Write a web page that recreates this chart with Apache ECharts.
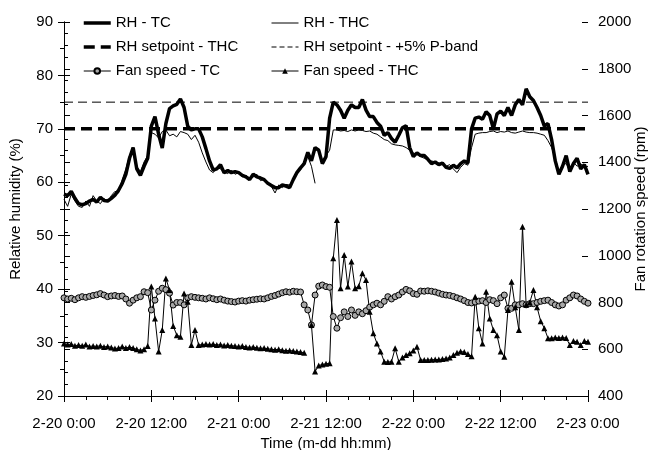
<!DOCTYPE html>
<html lang="en">
<head>
    <meta charset="UTF-8">
    <title>RH and fan speed</title>
    <script src="https://cdn.jsdelivr.net/npm/echarts/dist/echarts.min.js"></script>
    <style>
        body { margin: 0; padding: 0; background: #fff; }
        #chart { width: 652px; height: 450px; }
    </style>
</head>
<body>
<div id="chart"></div>
<script>
    // time step of the records, hours from 2-20 0:00
    var stepHours = 0.5;

    var xTickLabels = ['2-20 0:00', '2-20 12:00', '2-21 0:00', '2-21 12:00', '2-22 0:00', '2-22 12:00', '2-23 0:00'];

    var rhSetpointTHC = 70;
    var rhSetpointBand = 75;

    // relative humidity, %
    var rhTC = [
        57.8, 57.5, 58.3, 57.0, 56.0, 55.8, 56.0, 56.5, 56.8, 56.3, 57.2, 56.6,
        56.5, 57.0, 57.6, 58.5, 59.8, 61.5, 64.5, 66.5, 62.5, 61.3, 63.0, 64.5,
        70.5, 72.3, 69.0, 66.4, 71.0, 73.8, 74.3, 74.6, 75.6, 74.0, 70.5, 69.8,
        70.0, 70.0, 68.5, 66.3, 64.0, 62.3, 62.5, 63.3, 61.8, 62.2, 61.8, 62.0,
        61.8, 61.3, 61.0, 60.5, 61.5, 61.0, 60.8, 60.5, 59.8, 59.4, 59.0, 59.0,
        59.5, 59.3, 59.0, 60.5, 61.8, 62.7, 63.5, 65.6, 64.0, 66.5, 66.0, 63.5,
        64.8, 72.0, 75.0, 74.5, 73.5, 72.0, 73.5, 74.5, 74.0, 74.0, 75.5, 73.5,
        72.3, 72.3, 71.2, 70.5, 68.8, 69.3, 68.2, 67.5, 68.8, 70.2, 70.6, 66.5,
        64.8, 65.5, 65.0, 65.0, 64.3, 63.5, 63.8, 63.3, 63.6, 62.8, 62.6, 63.2,
        62.7, 63.5, 64.0, 63.6, 70.0, 72.0, 72.2, 71.8, 73.2, 72.5, 70.0, 72.8,
        73.3, 72.5, 74.0, 72.5, 74.5, 75.5, 74.5, 77.5, 76.0, 75.3, 74.0, 72.5,
        70.5, 71.0, 68.0, 64.0, 61.5, 63.0, 65.0, 62.0, 63.5, 64.5, 62.5, 63.3,
        61.5
    ];
    var rhTHC = [
        56.8, 55.5, 57.8, 56.5, 55.5, 55.3, 56.5, 55.5, 57.5, 56.5, 56.0, 57.0,
        56.3, 57.5, 58.3, 58.0, 60.5, 62.5, 65.0, 66.5, 63.0, 62.0, 63.8, 65.0,
        69.3, 69.0, 68.3, 69.5, 69.8, 68.7, 69.0, 68.5, 69.5, 69.3, 69.0, 68.0,
        68.8, 67.5, 65.5, 63.8, 62.3, 61.8, 62.8, 62.5, 62.0, 61.6, 62.3, 61.5,
        61.8, 61.0, 61.3, 60.8, 61.0, 61.5, 60.3, 60.6, 60.0, 59.2, 58.0, 59.5,
        59.0, 59.6, 59.5, 60.3, 62.0, 62.3, 64.0, 64.8, 63.0, 59.8, null, 64.0,
        65.0, 66.0, 69.8, 69.8, 69.6, 69.7, 69.5, 69.8, 69.6, 69.8, 69.7, 69.5,
        69.6, 69.2, 69.0, 68.5, 68.0, 67.8, 67.2, 67.0, 66.9, 66.8, 66.5, 66.0,
        65.5, 65.2, 64.8, 64.5, 64.2, 64.0, 63.8, 63.6, 63.5, 63.0, 63.3, 62.5,
        61.8, 62.8, 63.5, 63.2, 66.5, 69.0, 69.2, 69.3, 69.3, 69.5, 69.6, 69.3,
        69.5, 69.4, 69.6, 69.3, 69.2, 69.4, 69.6, 69.4, 69.3, 69.3, 69.2, 69.0,
        68.8, 67.8, 66.5, 64.5, 62.0, 63.3, 63.5, 62.2, 63.8, 63.0, 63.5, 62.8,
        63.0
    ];

    // fan rotation speed, rpm
    var fanTC = [
        820, 815, 818, 812, 820, 825, 822, 826, 830, 833, 838, 832,
        825, 828, 830, 826, 828, 815, 797, 810, 820, 825, 846, 842,
        768, 810, 848, 861, 855, 840, 789, 800, 800, 790, 820, 825,
        822, 820, 818, 815, 820, 816, 812, 815, 810, 806, 804, 802,
        806, 808, 806, 810, 812, 814, 816, 815, 820, 826, 830, 836,
        842, 846, 844, 848, 846, 845, 790, 768, 704, 832, 870, 875,
        868, 865, 740, 690, 735, 760, 740, 768, 745, 760, 752, 765,
        780, 790, 797, 790, 805, 825, 815, 825, 832, 845, 856, 850,
        838, 835, 849, 848, 850, 848, 845, 840, 835, 832, 830, 826,
        820, 815, 808, 800, 798, 802, 806, 808, 800, 812, 808, 795,
        820, 832, 775, 775, 790, 790, 795, 790, 795, 795, 800, 805,
        808, 810, 800, 790, 785, 790, 810, 820, 832, 828, 815, 805,
        797
    ];
    var fanTHC = [
        625, 620, 622, 615, 618, 615, 620, 612, 614, 612, 615, 610,
        612, 608, 603, 605, 612, 605, 610, 605, 600, 595, 600, 614,
        868, 732, 590, 682, 903, 853, 700, 660, 654, 839, 803, 618,
        682, 618, 620, 622, 620, 622, 618, 620, 616, 618, 615, 614,
        612, 614, 610, 608, 610, 606, 604, 605, 602, 600, 598, 600,
        596, 594, 595, 592, 590, 588, 585, null, 704, 505, 530, 535,
        538, 540, 989, 1153, 861, 1003, 868, 975, 861, 870, 925, 896,
        760, 668, 625, 590, 547, 545, 547, 604, 547, 565, 575, 583,
        595, 611, 554, 554, 554, 555, 556, 556, 558, 560, 565, 575,
        585, 590, 588, 580, 570, 825, 690, 625, 846, 732, 682, 660,
        590, 568, 768, 889, 780, 682, 1124, 790, 800, 853, 780, 720,
        690, 647, 647, 650, 648, 650, 648, 618, 635, 632, 618, 635,
        632
    ];

    function toPairs(arr) {
        return arr.map(function (v, i) {
            return [i * stepHours, v === null ? '-' : v];
        });
    }

    var font = 'Liberation Sans, Arial, sans-serif';
    var black = '#000';

    var chart = echarts.init(document.getElementById('chart'));

    var legendText = { fontFamily: font, fontSize: 15, color: black, lineHeight: 16 };
    var noSymbol = { color: 'rgba(0,0,0,0)', borderWidth: 0, opacity: 0 };

    function legendBox(items, left) {
        return {
            data: items, orient: 'vertical', left: left, top: 15, padding: 0,
            itemWidth: 27, itemHeight: 7, itemGap: 8,
            selectedMode: false, textStyle: legendText
        };
    }

    var option = {
        animation: false,
        backgroundColor: '#fff',
        grid: { left: 64, right: 64, top: 22, bottom: 54, outerBoundsMode: 'none', containLabel: false },
        legend: [
            legendBox([
                { name: 'RH - TC', itemStyle: noSymbol, lineStyle: { color: black, width: 3.5, type: 'solid' } },
                { name: 'RH setpoint - THC', itemStyle: noSymbol, lineStyle: { color: black, width: 3.5, type: [11, 6] } },
                { name: 'Fan speed - TC', lineStyle: { color: black, width: 1, type: 'solid' } }
            ], 82),
            legendBox([
                { name: 'RH - THC', itemStyle: noSymbol, lineStyle: { color: black, width: 1, type: 'solid' } },
                { name: 'RH setpoint - +5% P-band', itemStyle: noSymbol, lineStyle: { color: black, width: 1, type: [5, 3] } },
                { name: 'Fan speed - THC', lineStyle: { color: black, width: 1, type: 'solid' } }
            ], 271)
        ],
        xAxis: [
            {
                type: 'value', min: 0, max: 72, interval: 12, position: 'bottom',
                name: 'Time (m-dd hh:mm)', nameLocation: 'middle', nameGap: 38,
                nameTextStyle: { fontFamily: font, fontSize: 15, color: black },
                axisLine: { lineStyle: { color: black, width: 1 } },
                axisTick: { length: 6, lineStyle: { color: black } },
                minorTick: { show: true, splitNumber: 4, length: 4, lineStyle: { color: black } },
                axisLabel: {
                    margin: 20, fontFamily: font, fontSize: 15, color: black,
                    formatter: function (v) { return xTickLabels[Math.round(v / 12)]; }
                },
                splitLine: { show: false }
            },
            {
                type: 'value', min: 0, max: 72, interval: 12, position: 'bottom',
                axisLine: { show: false },
                axisTick: { inside: true, length: 6, lineStyle: { color: black } },
                axisLabel: { show: false },
                splitLine: { show: false }
            }
        ],
        yAxis: [
            {
                type: 'value', min: 20, max: 90, interval: 10, position: 'left',
                name: 'Relative humidity (%)', nameLocation: 'middle', nameGap: 41,
                nameTextStyle: { fontFamily: font, fontSize: 15, color: black },
                axisLine: { show: true, lineStyle: { color: black, width: 1 } },
                axisTick: { length: 6, lineStyle: { color: black } },
                minorTick: { show: true, splitNumber: 2, length: 4, lineStyle: { color: black } },
                axisLabel: { margin: 11, fontFamily: font, fontSize: 15, color: black },
                splitLine: { show: false }
            },
            {
                type: 'value', min: 400, max: 2000, interval: 200, position: 'right',
                name: 'Fan rotation speed (rpm)', nameLocation: 'middle', nameGap: 45,
                nameMoveOverlap: false,
                nameTextStyle: { fontFamily: font, fontSize: 15, color: black },
                axisLine: { show: true, lineStyle: { color: black, width: 1 } },
                axisTick: { length: 6, lineStyle: { color: black } },
                minorTick: { show: true, splitNumber: 4, length: 4, lineStyle: { color: black } },
                axisLabel: {
                    margin: 10, fontFamily: font, fontSize: 15, color: black,
                    formatter: function (v) { return String(v); }
                },
                splitLine: { show: false }
            },
            {
                type: 'value', min: 20, max: 90, interval: 10, position: 'left',
                axisLine: { show: false },
                axisTick: { show: true, inside: true, length: 6, lineStyle: { color: black } },
                axisLabel: { show: false },
                splitLine: { show: false }
            },
            {
                type: 'value', min: 400, max: 2000, interval: 200, position: 'right',
                axisLine: { show: false },
                axisTick: { show: true, inside: true, length: 6, lineStyle: { color: black } },
                axisLabel: { show: false },
                splitLine: { show: false }
            }
        ],
        series: [
            {
                name: 'RH - TC', type: 'line', yAxisIndex: 0, symbol: 'none',
                color: black, lineStyle: { color: black, width: 3.5 },
                data: toPairs(rhTC)
            },
            {
                name: 'RH - THC', type: 'line', yAxisIndex: 0, symbol: 'none',
                color: black, lineStyle: { color: black, width: 1 },
                data: toPairs(rhTHC)
            },
            {
                name: 'RH setpoint - THC', type: 'line', yAxisIndex: 0, symbol: 'none',
                color: black, lineStyle: { color: black, width: 3.5, type: [11, 6] },
                data: [[0, rhSetpointTHC], [72, rhSetpointTHC]]
            },
            {
                name: 'RH setpoint - +5% P-band', type: 'line', yAxisIndex: 0, symbol: 'none',
                color: black, lineStyle: { color: black, width: 1, type: [9, 5] },
                data: [[0, rhSetpointBand], [72, rhSetpointBand]]
            },
            {
                name: 'Fan speed - TC', type: 'line', yAxisIndex: 1,
                symbol: 'circle', symbolSize: 6,
                color: black, lineStyle: { color: black, width: 1 },
                itemStyle: { color: '#a8a8a8', borderColor: black, borderWidth: 1 },
                data: toPairs(fanTC)
            },
            {
                name: 'Fan speed - THC', type: 'line', yAxisIndex: 1,
                symbol: 'triangle', symbolSize: 6,
                color: black, lineStyle: { color: black, width: 1 },
                itemStyle: { color: black },
                data: toPairs(fanTHC)
            }
        ]
    };

    chart.setOption(option);
</script>
</body>
</html>
